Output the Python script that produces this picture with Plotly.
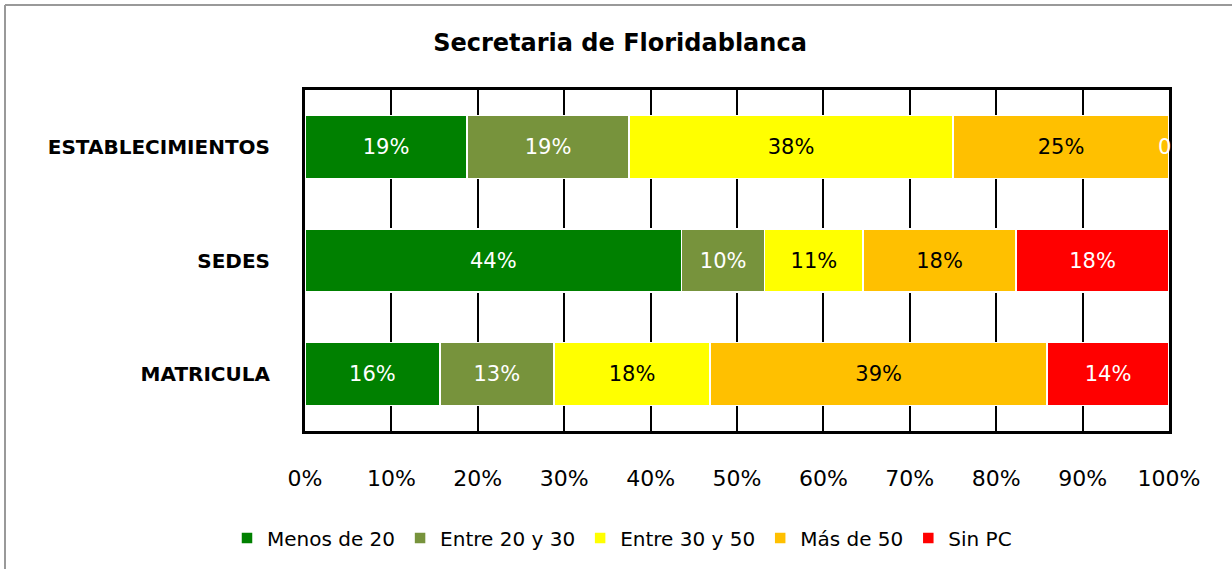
import plotly.graph_objects as go

categories = ["ESTABLECIMIENTOS", "SEDES", "MATRICULA"]
series_names = ["Menos de 20", "Entre 20 y 30", "Entre 30 y 50", "Más de 50", "Sin PC"]
menos_20 = [18.75, 43.6, 15.6]
entre_20_30 = [18.75, 9.6, 13.2]
entre_30_50 = [37.5, 11.4, 18.1]
mas_50 = [25.0, 17.7, 39.0]
sin_pc = [0.0, 17.7, 14.1]
tick_vals = [0, 10, 20, 30, 40, 50, 60, 70, 80, 90, 100]
tick_text = [f"{v}%" for v in tick_vals]

series = [menos_20, entre_20_30, entre_30_50, mas_50, sin_pc]
colors = ["#008000", "#77933C", "#FFFF00", "#FFC000", "#FF0000"]
text_colors = ["white", "white", "black", "black", "white"]

FONT = "DejaVu Sans, Open Sans, sans-serif"
W, H = 1232, 569
L, R, T, B = 305, W - 1169, 90, H - 431
PW, PH = W - L - R, H - T - B

fig = go.Figure()
for name, vals, col, tc in zip(series_names, series, colors, text_colors):
    fig.add_trace(go.Bar(
        y=categories, x=vals, name=name, orientation="h",
        marker=dict(color=col, line=dict(color="white", width=1.5)),
        text=[f"{round(v)}%" if v > 0 else "" for v in vals],
        textposition="inside", insidetextanchor="middle",
        textfont=dict(family=FONT, size=21, color=tc),
        constraintext="none",
        hoverinfo="x+name",
    ))

# zero-value label ("0") for the series whose bar has no width
for i, cat in enumerate(categories):
    if sin_pc[i] == 0:
        cum = sum(s[i] for s in series[:-1])
        fig.add_annotation(x=cum, y=cat, xref="x", yref="y", text="0",
                           showarrow=False, xanchor="center", xshift=-5,
                           font=dict(family=FONT, size=21, color="white"))

fig.update_layout(
    width=W, height=H,
    margin=dict(l=L, r=R, t=T, b=B),
    barmode="stack", bargap=0.445,
    plot_bgcolor="white", paper_bgcolor="white",
    title=dict(text="<b>Secretaria de Floridablanca</b>", x=620 / W, xref="container",
               y=1 - 43 / H, yref="container", xanchor="center", yanchor="middle",
               font=dict(family=FONT, size=24, color="black")),
    showlegend=True,
    legend=dict(orientation="h", x=(622 - L) / PW, xanchor="center",
                y=1 - (538 - T) / PH, yanchor="middle",
                font=dict(family=FONT, size=20, color="black"),
                traceorder="normal", itemwidth=30),
    xaxis=dict(range=[0, 100], tickvals=tick_vals, ticktext=tick_text,
               showgrid=True, gridcolor="black", gridwidth=2,
               showline=True, linecolor="black", linewidth=3, mirror=True,
               ticks="", ticklabelstandoff=26, zeroline=False,
               tickfont=dict(family=FONT, size=22, color="black")),
    yaxis=dict(autorange="reversed", showline=True, linecolor="black", linewidth=3,
               mirror=True, ticks="", ticklabelstandoff=28,
               tickfont=dict(family=FONT, size=20, color="black", weight="bold")),
    shapes=[
        dict(type="line", xref="paper", yref="paper",
             x0=(5 - L) / PW, x1=(W + 20 - L) / PW,
             y0=1 + (T - 5) / PH, y1=1 + (T - 5) / PH,
             line=dict(color="#999999", width=2)),
        dict(type="line", xref="paper", yref="paper",
             x0=(5 - L) / PW, x1=(5 - L) / PW,
             y0=1 + (T - 5) / PH, y1=-(B + 20) / PH,
             line=dict(color="#999999", width=2)),
    ],
)

fig.write_html("out.html", config={"displayModeBar": False},
               post_script="document.body.style.margin='0px';")
